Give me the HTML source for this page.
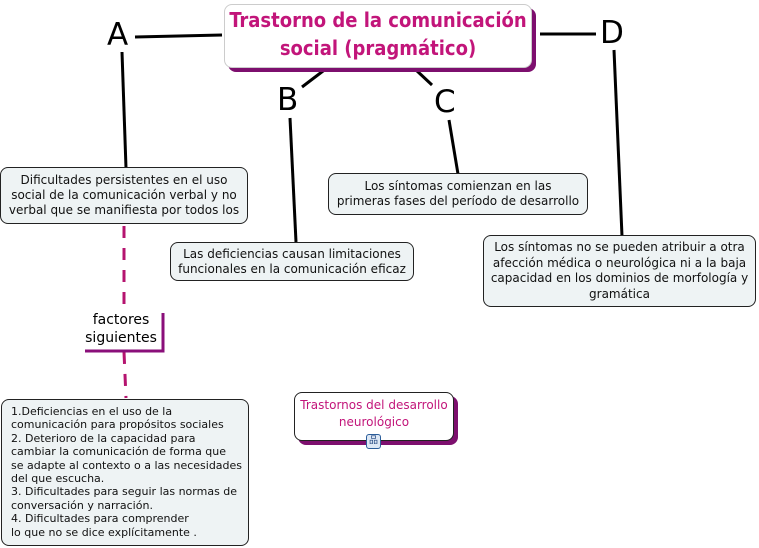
<!DOCTYPE html>
<html><head><meta charset="utf-8"><style>
body{margin:0;width:759px;height:548px;background:#fff;position:relative;overflow:hidden;font-family:"DejaVu Sans",Verdana,sans-serif;}
.b{position:absolute;box-sizing:border-box;background:#eef3f4;border:1px solid #222;border-radius:8px;font-size:12px;line-height:15px;color:#111;text-align:center;display:flex;align-items:center;justify-content:center;white-space:nowrap;}
.l{position:absolute;font-family:"DejaVu Sans",sans-serif;font-size:31px;line-height:31px;color:#000;}
</style></head><body>
<svg width="759" height="548" style="position:absolute;left:0;top:0">
<g stroke="#000" stroke-width="3" fill="none">
<line x1="135" y1="37" x2="222" y2="35"/>
<line x1="122" y1="52" x2="126" y2="168"/>
<line x1="302" y1="87" x2="327" y2="68"/>
<line x1="290" y1="118" x2="296" y2="242"/>
<line x1="416" y1="70" x2="432" y2="85"/>
<line x1="449" y1="120" x2="458" y2="174"/>
<line x1="540" y1="34" x2="596" y2="34"/>
<line x1="614" y1="50" x2="622" y2="236"/>
</g>
<g stroke="#b5146f" stroke-width="3" stroke-dasharray="12,10" fill="none">
<line x1="124" y1="226" x2="124" y2="310"/>
<line x1="124" y1="352" x2="126" y2="398"/>
</g>
<polyline points="85,351 163,351 163,313" stroke="#8a0f7a" stroke-width="3" fill="none"/>
</svg>
<div style="position:absolute;top:8px;left:228px;width:308px;height:64px;background:#7d0f6e;border-radius:8px"></div>
<div style="position:absolute;left:224px;top:4px;width:308px;height:64px;background:#fff;border:1px solid #ccc;border-radius:8px;box-sizing:border-box;text-align:center;color:#c2157a;font-weight:bold;font-size:20px;line-height:28px;padding-top:1px;white-space:nowrap;font-family:'DejaVu Sans Condensed','DejaVu Sans',sans-serif">Trastorno de la comunicación<br>social (pragmático)</div>
<div class="l" style="left:107px;top:20px">A</div>
<div class="l" style="left:277px;top:85px">B</div>
<div class="l" style="left:434px;top:87px">C</div>
<div class="l" style="left:600px;top:18px">D</div>
<div class="b" style="left:0;top:167px;width:248px;height:57px">Dificultades persistentes en el uso<br>social de la comunicación verbal y no<br>verbal que se manifiesta por todos los</div>
<div class="b" style="left:170px;top:242px;width:244px;height:39px">Las deficiencias causan limitaciones<br>funcionales en la comunicación eficaz</div>
<div class="b" style="left:328px;top:173px;width:260px;height:42px">Los síntomas comienzan en las<br>primeras fases del período de desarrollo</div>
<div class="b" style="left:483px;top:235px;width:273px;height:72px;line-height:15.5px">Los síntomas no se pueden atribuir a otra<br>afección médica o neurológica ni a la baja<br>capacidad en los dominios de morfología y<br>gramática</div>
<div style="position:absolute;left:78px;top:311px;width:86px;text-align:center;font-size:14px;line-height:18px">factores<br>siguientes</div>
<div class="b" style="left:1px;top:399px;width:248px;height:147px;text-align:left;justify-content:flex-start;align-items:flex-start;padding:5px 0 0 9px;line-height:13.4px;font-size:11px">1.Deficiencias en el uso de la<br>comunicación para propósitos sociales<br>2. Deterioro de la capacidad para<br>cambiar la comunicación de forma que<br>se adapte al contexto o a las necesidades<br>del que escucha.<br>3. Dificultades para seguir las normas de<br>conversación y narración.<br>4. Dificultades para comprender<br>lo que no se dice explícitamente .</div>
<div style="position:absolute;left:298px;top:396px;width:160px;height:49px;background:#7d0f6e;border-radius:8px"></div>
<div class="b" style="left:294px;top:392px;width:160px;height:49px;background:#fff;color:#c2157a;align-items:flex-start;padding-top:4px;line-height:17px">Trastornos del desarrollo<br>neurológico</div>
<div style="position:absolute;left:366px;top:434px;width:15px;height:15px;background:#dde8f5;border:1px solid #2a5d9a;border-radius:3px;box-sizing:border-box;font-size:9px;line-height:13px;text-align:center;color:#1a3f7a">品</div>
</body></html>
